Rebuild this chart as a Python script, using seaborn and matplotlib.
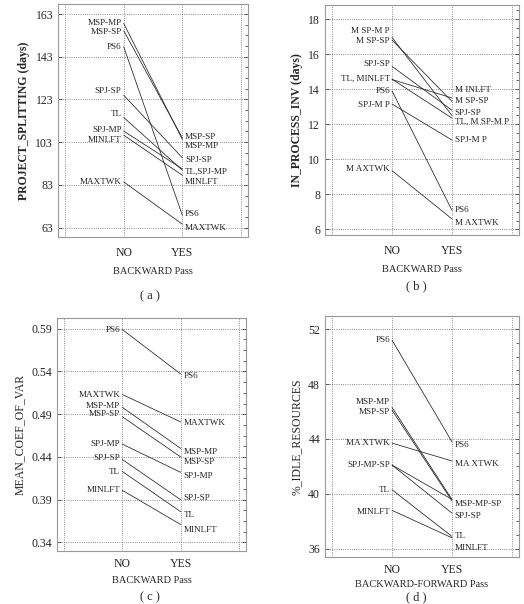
import numpy as np
import pandas as pd
import matplotlib
matplotlib.use("Agg")
import matplotlib.pyplot as plt
from matplotlib.ticker import AutoMinorLocator
import seaborn as sns

# ---- data ----
methods_a = ["MSP-MP", "MSP-SP", "PS6", "SPJ-SP", "TL", "SPJ-MP", "MINLFT", "MAXTWK"]
split_no = [158.6, 155.2, 147.7, 125.0, 114.6, 108.2, 106.3, 84.4]
split_yes = [104.3, 105.0, 68.8, 95.7, 89.9, 90.5, 87.5, 64.6]

methods_b = ["MSP-MP", "MSP-SP", "SPJ-SP", "TL", "MINLFT", "PS6", "SPJ-MP", "MAXTWK"]
inv_no = [16.95, 16.8, 15.3, 14.57, 14.55, 13.9, 13.15, 9.35]
inv_yes = [12.5, 13.3, 12.8, 12.35, 13.5, 7.1, 11.1, 6.6]

methods_c = ["PS6", "MAXTWK", "MSP-MP", "MSP-SP", "SPJ-MP", "SPJ-SP", "TL", "MINLFT"]
cov_no = [0.589, 0.513, 0.498, 0.487, 0.455, 0.437, 0.423, 0.401]
cov_yes = [0.537, 0.481, 0.450, 0.440, 0.422, 0.390, 0.376, 0.361]

methods_d = ["PS6", "MSP-MP", "MSP-SP", "MAXTWK", "SPJ-MP", "SPJ-SP", "TL", "MINLFT"]
idle_no = [51.2, 46.3, 46.1, 43.7, 42.1, 42.1, 40.3, 38.8]
idle_yes = [43.8, 39.6, 39.5, 42.4, 39.6, 38.6, 36.9, 36.8]

pass_labels = ["NO", "YES"]

# label groups (text, members) at each end of the lines
left_a = [("MSP-MP", ["MSP-MP"]), ("MSP-SP", ["MSP-SP"]), ("PS6", ["PS6"]),
          ("SPJ-SP", ["SPJ-SP"]), ("TL", ["TL"]), ("SPJ-MP", ["SPJ-MP"]),
          ("MINLFT", ["MINLFT"]), ("MAXTWK", ["MAXTWK"])]
right_a = [("MSP-SP", ["MSP-SP"]), ("MSP-MP", ["MSP-MP"]), ("SPJ-SP", ["SPJ-SP"]),
           ("TL,SPJ-MP", ["TL", "SPJ-MP"]), ("MINLFT", ["MINLFT"]),
           ("PS6", ["PS6"]), ("MAXTWK", ["MAXTWK"])]

left_b = [("M SP-M P", ["MSP-MP"]), ("M SP-SP", ["MSP-SP"]), ("SPJ-SP", ["SPJ-SP"]),
          ("TL, MINLFT", ["TL", "MINLFT"]), ("PS6", ["PS6"]),
          ("SPJ-M P", ["SPJ-MP"]), ("M AXTWK", ["MAXTWK"])]
right_b = [("M INLFT", ["MINLFT"]), ("M SP-SP", ["MSP-SP"]), ("SPJ-SP", ["SPJ-SP"]),
           ("TL, M SP-M P", ["TL", "MSP-MP"]), ("SPJ-M P", ["SPJ-MP"]),
           ("PS6", ["PS6"]), ("M AXTWK", ["MAXTWK"])]

left_c = [(m, [m]) for m in methods_c]
right_c = [(m, [m]) for m in methods_c]

left_d = [("PS6", ["PS6"]), ("MSP-MP", ["MSP-MP"]), ("MSP-SP", ["MSP-SP"]),
          ("MA XTWK", ["MAXTWK"]), ("SPJ-MP-SP", ["SPJ-MP", "SPJ-SP"]),
          ("TL", ["TL"]), ("MINLFT", ["MINLFT"])]
right_d = [("PS6", ["PS6"]), ("MA XTWK", ["MAXTWK"]),
           ("MSP-MP-SP", ["MSP-MP", "MSP-SP"]), ("SPJ-SP", ["SPJ-SP"]),
           ("TL", ["TL"]), ("MINLFT", ["MINLFT"])]

# vertical nudges (points) so that labels don't collide
nudge_left_a = [0, -1.2, 0, 3, 2.4, 0.8, -3.6, 0]
nudge_right_a = [1, -4.5, -1.5, -2, -5, 1.2, -2.4]
nudge_left_b = [4.5, -1, 1.7, 0.7, 0, -0.7, 1.2]
nudge_right_b = [5.5, 0, -1.7, -3.4, 0, 0, -3]
nudge_left_c = [0, 0, 1.2, 2.2, 0, 1.2, 0, 0]
nudge_right_c = [-1.4, -0.7, -2.4, -3.8, -2.9, 1.2, -2.4, -3.8]
nudge_left_d = [0, 4, -1.2, 0, 0, 0, -1]
nudge_right_d = [-2.4, -2, -3, -2.4, 0, -7]


def long_frame(methods, no_vals, yes_vals):
    rows = []
    for m, a, b in zip(methods, no_vals, yes_vals):
        rows.append({"method": m, "x": 0, "value": a})
        rows.append({"method": m, "x": 1, "value": b})
    return pd.DataFrame(rows)


def draw_panel(ax, methods, no_vals, yes_vals, left, right, nl, nr,
               yticks, ylim, ylabel, xlabel, bold_ylabel=False,
               xpad=7, xlabelpad=6):
    df = long_frame(methods, no_vals, yes_vals)
    sns.lineplot(data=df, x="x", y="value", units="method", estimator=None,
                 color="#222222", linewidth=0.55, ax=ax, legend=False)
    no_map = dict(zip(methods, no_vals))
    yes_map = dict(zip(methods, yes_vals))
    for (txt, members), dy in zip(left, nl):
        y = np.mean([no_map[m] for m in members])
        ax.annotate(txt, xy=(0, y), xytext=(-1.5, dy), textcoords="offset points",
                    ha="right", va="center", fontsize=6.6)
    for (txt, members), dy in zip(right, nr):
        y = np.mean([yes_map[m] for m in members])
        ax.annotate(txt, xy=(1, y), xytext=(2, dy), textcoords="offset points",
                    ha="left", va="center", fontsize=6.6)

    ax.set_xlim(-1.12, 2.12)
    ax.set_xticks([0, 1])
    ax.set_xticklabels(pass_labels, fontsize=8.5)
    ax.set_xticks([-1, 2], minor=True)
    ax.set_yticks(yticks)
    ax.set_ylim(*ylim)
    ax.yaxis.set_minor_locator(AutoMinorLocator(4))
    ax.tick_params(axis="y", which="major", labelsize=8.5, direction="in",
                   length=3, left=True, right=True, width=0.5)
    ax.tick_params(axis="y", which="minor", direction="in", length=2,
                   left=False, right=True, width=0.5)
    ax.tick_params(axis="x", which="major", direction="in", length=3,
                   width=0.5, pad=xpad)
    ax.tick_params(axis="x", which="minor", length=0)
    ax.grid(True, which="major", linestyle=":", color="#666666", linewidth=0.6)
    ax.grid(True, which="minor", axis="x", linestyle=":", color="#666666",
            linewidth=0.6)
    ax.set_ylabel(ylabel, fontsize=8.5,
                  fontweight="bold" if bold_ylabel else "normal")
    ax.set_xlabel(xlabel, fontsize=7.5, labelpad=xlabelpad)
    for sp in ax.spines.values():
        sp.set_color("#999999")
        sp.set_linewidth(0.8)


sns.set_theme(style="white")
plt.rcParams["font.family"] = ["Liberation Serif", "DejaVu Serif"]

fig = plt.figure(figsize=(5.24, 6.04), dpi=100)
ax_a = fig.add_axes([0.1107, 0.6076, 0.3626, 0.3858])
ax_b = fig.add_axes([0.6202, 0.6109, 0.3702, 0.3808])
ax_c = fig.add_axes([0.1088, 0.0877, 0.3607, 0.3858])
ax_d = fig.add_axes([0.6202, 0.0778, 0.3702, 0.3990])

draw_panel(ax_a, methods_a, split_no, split_yes, left_a, right_a,
           nudge_left_a, nudge_right_a, [63, 83, 103, 123, 143, 163],
           (58.6, 167.7), "PROJECT_SPLITTING (days)", "BACKWARD Pass",
           bold_ylabel=True)
draw_panel(ax_b, methods_b, inv_no, inv_yes, left_b, right_b,
           nudge_left_b, nudge_right_b, [6, 8, 10, 12, 14, 16, 18],
           (5.68, 18.8), "IN_PROCESS_INV (days)", "BACKWARD Pass",
           bold_ylabel=True)
draw_panel(ax_c, methods_c, cov_no, cov_yes, left_c, right_c,
           nudge_left_c, nudge_right_c, [0.34, 0.39, 0.44, 0.49, 0.54, 0.59],
           (0.330, 0.6025), "MEAN_COEF_OF_VAR", "BACKWARD Pass",
           xpad=5, xlabelpad=4)
draw_panel(ax_d, methods_d, idle_no, idle_yes, left_d, right_d,
           nudge_left_d, nudge_right_d, [36, 40, 44, 48, 52],
           (35.4, 52.96), "%_IDLE_RESOURCES", "BACKWARD-FORWARD Pass",
           xpad=5, xlabelpad=3)

fig.text(0.287, 1 - 296 / 604, "( a )", ha="center", va="center", fontsize=9)
fig.text(0.795, 1 - 286 / 604, "( b )", ha="center", va="center", fontsize=9)
fig.text(0.287, 1 - 597 / 604, "( c )", ha="center", va="center", fontsize=9)
fig.text(0.795, 1 - 597 / 604, "( d )", ha="center", va="center", fontsize=9)

fig.savefig("out.png", dpi=100)
